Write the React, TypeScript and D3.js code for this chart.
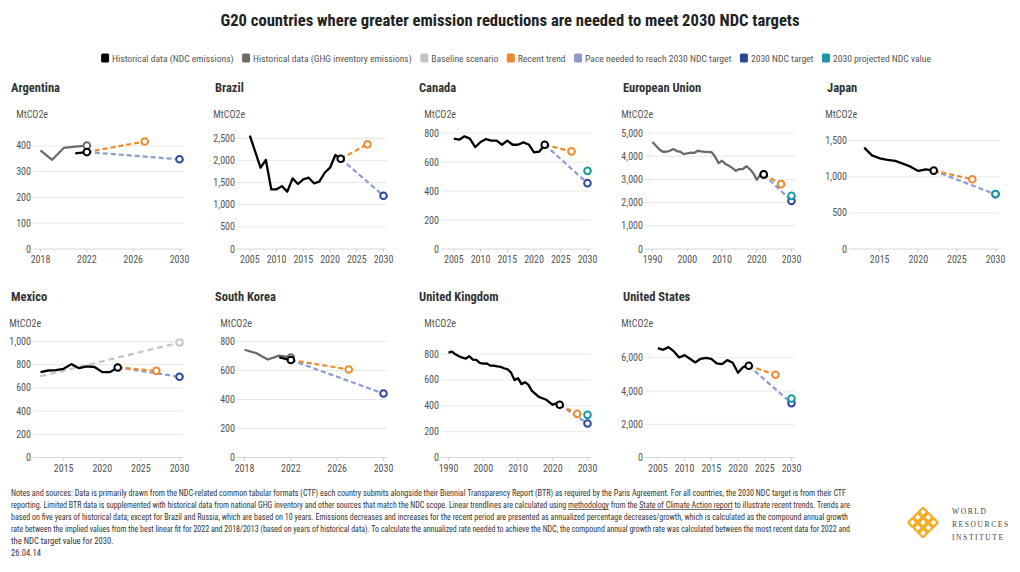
import React, { useRef, useEffect } from "react";
import * as d3 from "d3";

type Pt = [number, number];

const FONT = "'Liberation Sans Narrow', 'Roboto Condensed', 'DejaVu Sans Condensed', Roboto, sans-serif";

// Emission series, MtCO2e
const argentinaGhg: Pt[] = [[2018, 383], [2019, 346], [2020, 392], [2021, 397], [2022, 401]];
const argentinaNdc: Pt[] = [[2021, 371], [2022, 376]];

const brazilNdc: Pt[] = [
  [2005, 2559], [2006, 2200], [2007, 1836], [2008, 2010], [2009, 1348], [2010, 1348],
  [2011, 1420], [2012, 1295], [2013, 1596], [2014, 1468], [2015, 1574], [2016, 1610],
  [2017, 1484], [2018, 1520], [2019, 1723], [2020, 1836], [2021, 2123], [2022, 2040],
];

const canadaNdc: Pt[] = [
  [2005, 761], [2006, 754], [2007, 777], [2008, 761], [2009, 703], [2010, 738],
  [2011, 758], [2012, 747], [2013, 747], [2014, 719], [2015, 747], [2016, 719],
  [2017, 719], [2018, 735], [2019, 721], [2020, 666], [2021, 672], [2022, 719],
];

const euGhg: Pt[] = [
  [1990, 4610], [1991, 4451], [1992, 4292], [1993, 4192], [1994, 4192], [1995, 4235],
  [1996, 4308], [1997, 4220], [1998, 4192], [1999, 4091], [2000, 4120], [2001, 4150],
  [2002, 4140], [2003, 4235], [2004, 4210], [2005, 4190], [2006, 4190], [2007, 4170],
  [2008, 3990], [2009, 3702], [2010, 3803], [2011, 3660], [2012, 3587], [2013, 3486],
  [2014, 3371], [2015, 3443], [2016, 3443], [2017, 3573], [2018, 3443], [2019, 3270],
  [2020, 2982], [2021, 3198], [2022, 3213],
];
const euNdc: Pt[] = [[2021, 3190], [2022, 3215]];

const japanNdc: Pt[] = [
  [2013, 1403], [2014, 1297], [2015, 1256], [2016, 1233], [2017, 1219],
  [2018, 1182], [2019, 1140], [2020, 1080], [2021, 1104], [2022, 1085],
];

const mexicoNdc: Pt[] = [
  [2012, 736], [2013, 750], [2014, 753], [2015, 765], [2016, 805], [2017, 770],
  [2018, 785], [2019, 780], [2020, 736], [2021, 736], [2022, 776],
];
const mexicoBaseline: Pt[] = [[2012, 700], [2030, 991]];

const koreaGhg: Pt[] = [[2018, 743], [2019, 720], [2020, 676], [2021, 703], [2022, 690]];
const koreaNdc: Pt[] = [[2021, 690], [2022, 672]];

const ukNdc: Pt[] = [
  [1990, 812], [1991, 820], [1992, 799], [1993, 784], [1994, 773], [1995, 765],
  [1996, 784], [1997, 758], [1998, 755], [1999, 732], [2000, 727], [2001, 729],
  [2002, 711], [2003, 711], [2004, 706], [2005, 701], [2006, 691], [2007, 683],
  [2008, 657], [2009, 599], [2010, 614], [2011, 568], [2012, 583], [2013, 562],
  [2014, 516], [2015, 492], [2016, 469], [2017, 459], [2018, 449], [2019, 428],
  [2020, 408], [2021, 420], [2022, 408],
];

const usNdc: Pt[] = [
  [2005, 6580], [2006, 6480], [2007, 6640], [2008, 6380], [2009, 6020], [2010, 6160],
  [2011, 5940], [2012, 5720], [2013, 5940], [2014, 6000], [2015, 5940], [2016, 5660],
  [2017, 5620], [2018, 5860], [2019, 5700], [2020, 5100], [2021, 5460], [2022, 5520],
];

const countries = [
  "Argentina", "Brazil", "Canada", "European Union", "Japan",
  "Mexico", "South Korea", "United Kingdom", "United States",
];
const ndcSeries: (Pt[] | null)[] = [argentinaNdc, brazilNdc, canadaNdc, euNdc, japanNdc, mexicoNdc, koreaNdc, ukNdc, usNdc];
const ghgSeries: (Pt[] | null)[] = [argentinaGhg, null, null, euGhg, null, null, koreaGhg, null, null];
const baselineSeries: (Pt[] | null)[] = [null, null, null, null, null, mexicoBaseline, null, null, null];
const trend2027 = [417, 2364, 673, 2795, 965, 747, 607, 338, 4976];
const target2030 = [348, 1204, 454, 2074, 757, 696, 441, 263, 3273];
const projected2030: (number | null)[] = [null, null, 539, 2290, 762, null, null, 330, 3551];

// axis settings
const xStart = [2018, 2004, 2004, 1990, 2012, 2012, 2018, 1990, 2004];
const xTickValues = [
  [2018, 2022, 2026, 2030],
  [2005, 2010, 2015, 2020, 2025, 2030],
  [2005, 2010, 2015, 2020, 2025, 2030],
  [1990, 2000, 2010, 2020, 2030],
  [2015, 2020, 2025, 2030],
  [2015, 2020, 2025, 2030],
  [2018, 2022, 2026, 2030],
  [1990, 2000, 2010, 2020, 2030],
  [2005, 2010, 2015, 2020, 2025, 2030],
];
const yTickValues = [
  [0, 100, 200, 300, 400],
  [0, 500, 1000, 1500, 2000, 2500],
  [0, 200, 400, 600, 800],
  [0, 1000, 2000, 3000, 4000, 5000],
  [0, 500, 1000, 1500],
  [0, 200, 400, 600, 800, 1000],
  [0, 200, 400, 600, 800],
  [0, 200, 400, 600, 800],
  [0, 2000, 4000, 6000],
];
const yTop = [450, 2620, 800, 5000, 1606, 1000, 800, 898, 6980];

const legendItems = [
  { label: "Historical data (NDC emissions)", color: "#000000" },
  { label: "Historical data (GHG inventory emissions)", color: "#6b6b66" },
  { label: "Baseline scenario", color: "#c4c4c0" },
  { label: "Recent trend", color: "#f0892e" },
  { label: "Pace needed to reach 2030 NDC target", color: "#8c9ccf" },
  { label: "2030 NDC target", color: "#2c4797" },
  { label: "2030 projected NDC value", color: "#1799a3" },
];

const noteLines = [
  "Notes and sources: Data is primarily drawn from the NDC-related common tabular formats (CTF) each country submits alongside their Biennial Transparency Report (BTR) as required by the Paris Agreement. For all countries, the 2030 NDC target is from their CTF",
  "reporting. Limited BTR data is supplemented with historical data from national GHG inventory and other sources that match the NDC scope. Linear trendlines are calculated using methodology from the State of Climate Action report to illustrate recent trends. Trends are",
  "based on five years of historical data; except for Brazil and Russia, which are based on 10 years. Emissions decreases and increases for the recent period are presented as annualized percentage decreases/growth, which is calculated as the compound annual growth",
  "rate between the implied values from the best linear fit for 2022 and 2018/2013 (based on years of historical data). To calculate the annualized rate needed to achieve the NDC, the compound annual growth rate was calculated between the most recent data for 2022 and",
  "the NDC target value for 2030.",
  "26.04.14",
];
// full lines are set flush to the same right edge
const noteWidths = [835, 839, 837, 839, 0, 0];
const noteLinks = ["methodology", "State of Climate Action report"];

const C = {
  ndc: "#000000",
  ghg: "#6b6b66",
  base: "#c4c4c0",
  trend: "#f0892e",
  pace: "#8c9ccf",
  target: "#2c4797",
  proj: "#1799a3",
};

export default function App() {
  const ref = useRef<SVGSVGElement>(null);

  useEffect(() => {
    const svg = d3.select(ref.current);
    svg.selectAll("*").remove();
    svg.attr("font-family", FONT);

    svg.append("rect").attr("width", 1020).attr("height", 572).attr("fill", "#fff");

    svg.append("text")
      .attr("x", 510).attr("y", 26)
      .attr("text-anchor", "middle")
      .attr("font-size", 16.6).attr("font-weight", "bold").attr("fill", "#222")
      .text("G20 countries where greater emission reductions are needed to meet 2030 NDC targets");

    // legend, laid out left to right then centred
    const legend = svg.append("g");
    let lx = 0;
    legendItems.forEach((it) => {
      legend.append("rect").attr("x", lx).attr("y", -4.5).attr("width", 8).attr("height", 9)
        .attr("rx", 1.5).attr("fill", it.color);
      const t = legend.append("text").attr("x", lx + 11).attr("y", 3.5)
        .attr("font-size", 9.6).attr("fill", "#555").text(it.label);
      lx += 11 + (t.node() as SVGTextElement).getComputedTextLength() + 8.5;
    });
    legend.attr("transform", `translate(${516 - (lx - 8.5) / 2},58)`);

    countries.forEach((name, i) => {
      const col = i % 5;
      const row = Math.floor(i / 5);
      const px = 11 + col * 204;
      const oy = row * 208.5;
      const g = svg.append("g");

      const x = d3.scaleLinear().domain([xStart[i], 2030]).range([px + 29.5, px + 168.5]);
      const y = d3.scaleLinear().domain([0, yTop[i]]).range([249 + oy, 133 + oy]);

      g.append("text").attr("x", px).attr("y", 92 + oy)
        .attr("font-size", 12.5).attr("font-weight", "bold").attr("fill", "#333").text(name);

      g.append("g").selectAll("line").data(yTickValues[i]).join("line")
        .attr("x1", px + 22).attr("x2", px + 172)
        .attr("y1", (d) => y(d)).attr("y2", (d) => y(d))
        .attr("stroke", (d) => (d === 0 ? "#d6d6d6" : "#e8e8e8")).attr("stroke-width", 1);

      const yl = g.append("g");
      yl.selectAll("text").data(yTickValues[i]).join("text")
        .attr("x", px + 20).attr("y", (d) => y(d)).attr("dy", "0.35em")
        .attr("text-anchor", "end").attr("font-size", 10).attr("fill", "#555")
        .text((d) => d3.format(",")(d));
      const bb = (yl.node() as SVGGElement).getBBox();
      g.append("text").attr("x", bb.x).attr("y", 118 + oy)
        .attr("font-size", 10).attr("fill", "#555").text("MtCO2e");

      const xa = g.append("g");
      xa.selectAll("line").data(xTickValues[i]).join("line")
        .attr("x1", (d) => x(d)).attr("x2", (d) => x(d))
        .attr("y1", 249 + oy).attr("y2", 252 + oy).attr("stroke", "#ccc");
      xa.selectAll("text").data(xTickValues[i]).join("text")
        .attr("x", (d) => x(d)).attr("y", 263 + oy)
        .attr("text-anchor", "middle").attr("font-size", 10).attr("fill", "#555")
        .text((d) => String(d));

      const line = d3.line<Pt>().x((d) => x(d[0])).y((d) => y(d[1]));
      const ndc = ndcSeries[i]!;
      const last = ndc[ndc.length - 1];
      const ghg = ghgSeries[i];
      const base = baselineSeries[i];

      const dashed = (pts: Pt[], color: string, dash = "5,3") =>
        g.append("path").attr("d", line(pts)).attr("fill", "none")
          .attr("stroke", color).attr("stroke-width", 2.2).attr("stroke-dasharray", dash);
      const marker = (p: Pt, color: string) =>
        g.append("circle").attr("cx", x(p[0])).attr("cy", y(p[1])).attr("r", 3.3)
          .attr("fill", "#fff").attr("stroke", color).attr("stroke-width", 2);

      if (base) dashed(base, C.base, "6,4");
      if (ghg) {
        g.append("path").attr("d", line(ghg)).attr("fill", "none")
          .attr("stroke", C.ghg).attr("stroke-width", 2.3).attr("stroke-linejoin", "round");
      }
      g.append("path").attr("d", line(ndc)).attr("fill", "none")
        .attr("stroke", C.ndc).attr("stroke-width", 2.3).attr("stroke-linejoin", "round");

      dashed([last, [2030, target2030[i]]], C.pace);
      dashed([last, [2027, trend2027[i]]], C.trend);

      if (base) marker(base[base.length - 1], C.base);
      if (ghg) marker(ghg[ghg.length - 1], C.ghg);
      marker(last, C.ndc);
      marker([2027, trend2027[i]], C.trend);
      marker([2030, target2030[i]], C.target);
      const pr = projected2030[i];
      if (pr != null) marker([2030, pr], C.proj);
    });

    // notes and sources; links get a drawn underline
    const notes = svg.append("g");
    noteLines.forEach((ln, k) => {
      const by = 496 + k * 12;
      const t = notes.append("text").attr("x", 11).attr("y", by)
        .attr("font-size", 8.6).attr("fill", "#333").text(ln);
      if (noteWidths[k] > 0) t.attr("textLength", noteWidths[k]).attr("lengthAdjust", "spacingAndGlyphs");
      const node = t.node() as SVGTextElement;
      noteLinks.forEach((link) => {
        const at = ln.indexOf(link);
        if (at < 0) return;
        const x0 = node.getStartPositionOfChar(at).x;
        const x1 = node.getEndPositionOfChar(at + link.length - 1).x;
        notes.append("line").attr("x1", x0).attr("x2", x1)
          .attr("y1", by + 1.5).attr("y2", by + 1.5)
          .attr("stroke", "#333").attr("stroke-width", 0.7);
      });
    });

    // WRI mark: woven diamond
    const logo = svg.append("g").attr("transform", "translate(923,522.5) rotate(45)");
    const cell = 7.4;
    for (let r = -1; r <= 1; r++) {
      for (let c = -1; c <= 1; c++) {
        logo.append("rect")
          .attr("x", c * cell - cell / 2 + 0.6).attr("y", r * cell - cell / 2 + 0.6)
          .attr("width", cell - 1.2).attr("height", cell - 1.2).attr("rx", 1.2)
          .attr("fill", "none").attr("stroke", "#f4ae25").attr("stroke-width", 2.4);
      }
    }
    ["WORLD", "RESOURCES", "INSTITUTE"].forEach((w, k) => {
      svg.append("text").attr("x", 952).attr("y", 513.5 + k * 13)
        .attr("font-family", "'Liberation Serif', 'DejaVu Serif', serif")
        .attr("font-size", 7.5).attr("letter-spacing", 1.6).attr("fill", "#444").text(w);
    });
  }, []);

  return (
    <svg
      ref={ref}
      width={1020}
      height={572}
      style={{ position: "absolute", left: 0, top: 0, display: "block" }}
    />
  );
}
